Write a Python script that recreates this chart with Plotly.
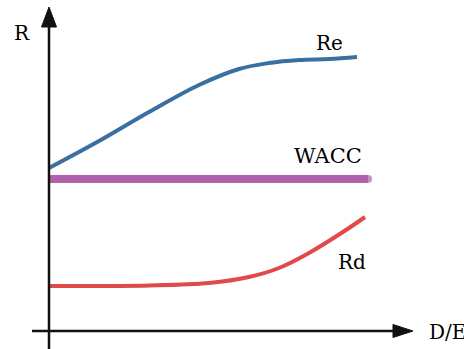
import plotly.graph_objects as go

# Data (x: D/E, y: R) in arbitrary chart units
re_x = [0.0, 0.5, 1.0, 1.5, 1.9, 2.2, 2.5, 2.8, 3.08]
re_y = [1.63, 1.90, 2.19, 2.46, 2.62, 2.68, 2.71, 2.72, 2.74]

wacc_x = [0.0, 3.19]
wacc_y = [1.52, 1.52]

rd_x = [0.0, 1.0, 1.6, 2.0, 2.3, 2.6, 3.0, 3.16]
rd_y = [0.45, 0.455, 0.48, 0.54, 0.63, 0.78, 1.03, 1.14]

labels = ["R", "Re", "WACC", "Rd", "D/E"]

FONT = "DejaVu Serif"

fig = go.Figure()
fig.add_trace(go.Scatter(x=re_x, y=re_y, mode="lines",
                         line=dict(color="#3b6fa1", width=4, shape="spline", smoothing=1.0),
                         hoverinfo="skip"))
fig.add_trace(go.Scatter(x=wacc_x, y=wacc_y, mode="lines+markers",
                         line=dict(color="#b062a8", width=8),
                         marker=dict(size=[0, 8], color="#b062a8", line=dict(width=0)),
                         hoverinfo="skip"))
fig.add_trace(go.Scatter(x=rd_x, y=rd_y, mode="lines",
                         line=dict(color="#e04a4a", width=4, shape="spline", smoothing=1.0),
                         hoverinfo="skip"))

# axes lines (drawn with shapes)
ax_col = "#111111"
fig.add_shape(type="line", x0=0, x1=0, y0=-0.2, y1=3.08, line=dict(color=ax_col, width=2.5))
fig.add_shape(type="line", x0=-0.17, x1=3.48, y0=0, y1=0, line=dict(color=ax_col, width=2.5))
fig.add_shape(type="path", path="M -0.075 3.04 L 0.075 3.04 L 0 3.24 Z",
              fillcolor=ax_col, line=dict(color=ax_col, width=1))
fig.add_shape(type="path", path="M 3.44 0.065 L 3.44 -0.065 L 3.64 0 Z",
              fillcolor=ax_col, line=dict(color=ax_col, width=1))

fig.add_annotation(x=-0.27, y=2.98, text=labels[0], showarrow=False,
                   font=dict(family=FONT, size=20, color="#000"))
fig.add_annotation(x=2.80, y=2.88, text=labels[1], showarrow=False,
                   font=dict(family=FONT, size=20, color="#000"))
fig.add_annotation(x=2.79, y=1.75, text=labels[2], showarrow=False,
                   font=dict(family=FONT, size=21, color="#000"))
fig.add_annotation(x=3.03, y=0.69, text=labels[3], showarrow=False,
                   font=dict(family=FONT, size=20, color="#000"))
fig.add_annotation(x=3.78, y=-0.01, text=labels[4], showarrow=False, xanchor="left",
                   font=dict(family=FONT, size=20, color="#000"))

fig.update_layout(
    width=464, height=349,
    margin=dict(l=0, r=0, t=0, b=0, autoexpand=False),
    paper_bgcolor="white", plot_bgcolor="white",
    showlegend=False,
    xaxis=dict(range=[-0.49, 4.15], visible=False, fixedrange=True),
    yaxis=dict(range=[-0.18, 3.31], visible=False, fixedrange=True),
)
fig.write_html("out.html", config={"displayModeBar": False},
               post_script="document.body.style.margin='0px';document.body.style.overflow='hidden';")
